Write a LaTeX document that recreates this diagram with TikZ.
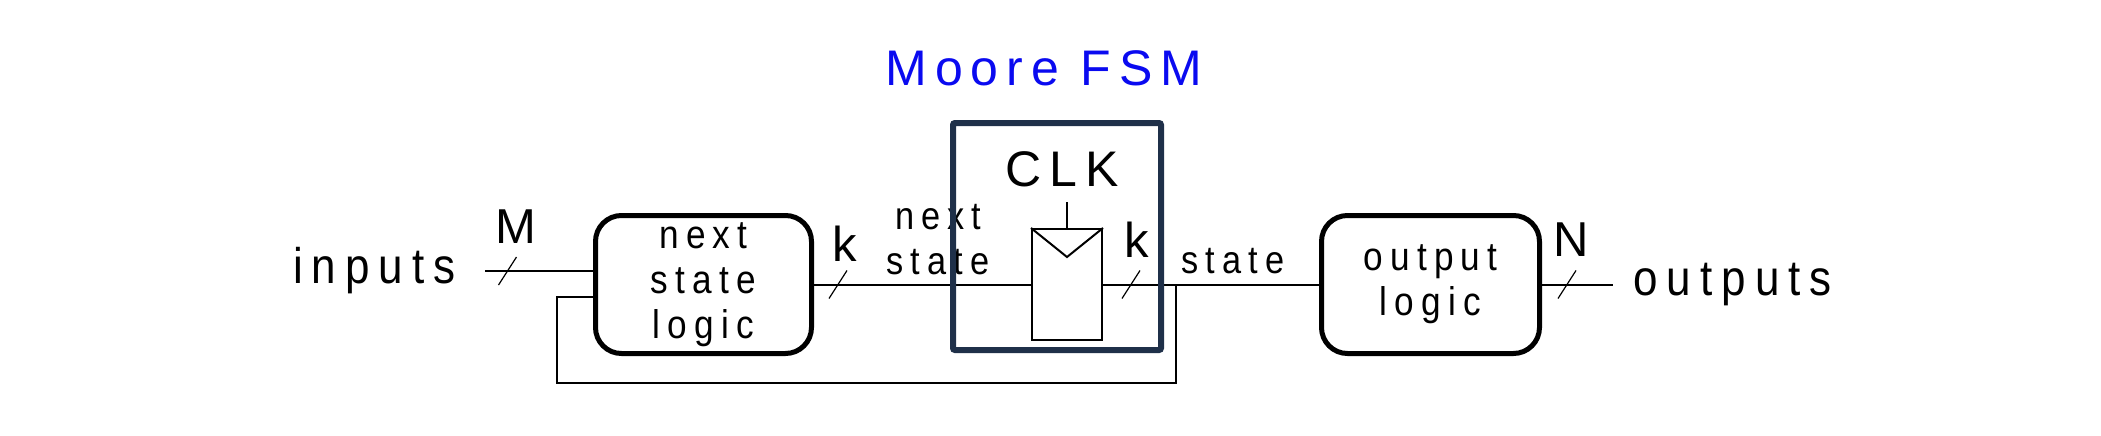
\documentclass[tikz,border=0pt]{standalone}
\usepackage{fontspec}
\setmainfont{Liberation Sans}
\newfontfamily\narrowfont[FakeStretch=0.88,LetterSpace=18]{Liberation Sans}
\newfontfamily\widefont[LetterSpace=16]{Liberation Sans}
\usetikzlibrary{positioning,calc}
\definecolor{FsmNavy}{RGB}{31,48,73}
\definecolor{FsmBlue}{RGB}{10,10,240}
\tikzset{
	wire/.style={draw=black,line width=1pt},
	bus/.style={draw=black,line width=0.6pt},
	logicbox/.style={draw=black,line width=2.5pt,rounded corners=13pt,minimum height=69pt,
		inner sep=0pt,align=center,font=\narrowfont\fontsize{20}{22.5}\selectfont},
	reg/.style={draw=black,line width=1pt,minimum width=35pt,minimum height=55.5pt,inner sep=0pt},
	lbl/.style={font=\narrowfont\fontsize{19.5}{22.5}\selectfont,align=center,inner sep=0pt},
	buswidth/.style={font=\fontsize{24.5}{24.5}\selectfont,inner sep=0pt},
	port/.style={font=\narrowfont\fontsize{25}{25}\selectfont,inner sep=0pt},
	title/.style={font=\widefont\fontsize{25}{25}\selectfont,inner sep=0pt},
}

\begin{document}
\begin{tikzpicture}[x=0.5pt,y=-0.5pt]
	\useasboundingbox (0,0) rectangle (2101,435);
	% blocks
	\node[logicbox,minimum width=108pt] (nslogic) at (703.5,284.5) {next\\state\\logic};
	\node[logicbox,minimum width=109pt] (outlogic) at (1430.5,284.5) {output\\logic};
	\node[reg] (ff) at (1067,284.5) {};
	\draw[wire] (ff.north west) -- ($(ff.north)+(0,29)$) -- (ff.north east);
	\coordinate (clk) at (1067,202);
	\draw[wire] (clk) -- (ff.north);
	\node[title,above=7.5pt of clk,xshift=-2.5pt] (clklbl) {CLK};
	% wires
	\coordinate (in) at (485,271);
	\coordinate (out) at (1613,284.5);
	\coordinate (tap) at (1176,284.5);
	\coordinate (fbbot) at (557,383);
	\coordinate (fb) at (557,297);
	\draw[wire] (in) -- (in -| nslogic.west);
	\draw[wire] (nslogic.east) -- (ff.west);
	\draw[wire] (ff.east) -- (outlogic.west);
	\draw[wire] (outlogic.east) -- (out);
	\draw[wire] (tap) |- (fbbot) -- (fb) -- (fb -| nslogic.west);
	\foreach \x/\y in {507.5/271,838/284.5,1131/284.5,1567/284.5}
	\draw[bus] (\x-9,\y+14) -- (\x+9,\y-14);
	% labels
	\node[port,left=14.5pt of in] (inputs) {inputs};
	\node[port,right=10pt of out] (outputs) {outputs};
	\foreach \t/\x/\y/\n in {M/515.5/227/m,k/845/244/ka,k/1137/240/kb,N/1571.5/239.5/n}
	\node[buswidth] (w\n) at (\x,\y) {\t};
	\node[lbl] (nslbl) at (938,240) {next\\state};
	\node[lbl,anchor=base] (slbl) at (1233,273) {state};
	% moore frame
	\node[draw=FsmNavy,line width=3pt,rounded corners=1pt,minimum width=104pt,minimum height=113.5pt] (fsm) at (1057,236.5) {};
	\node[title,text=FsmBlue] (fsmlbl) at (1044,68) {Moore FSM};
\end{tikzpicture}
\end{document}
